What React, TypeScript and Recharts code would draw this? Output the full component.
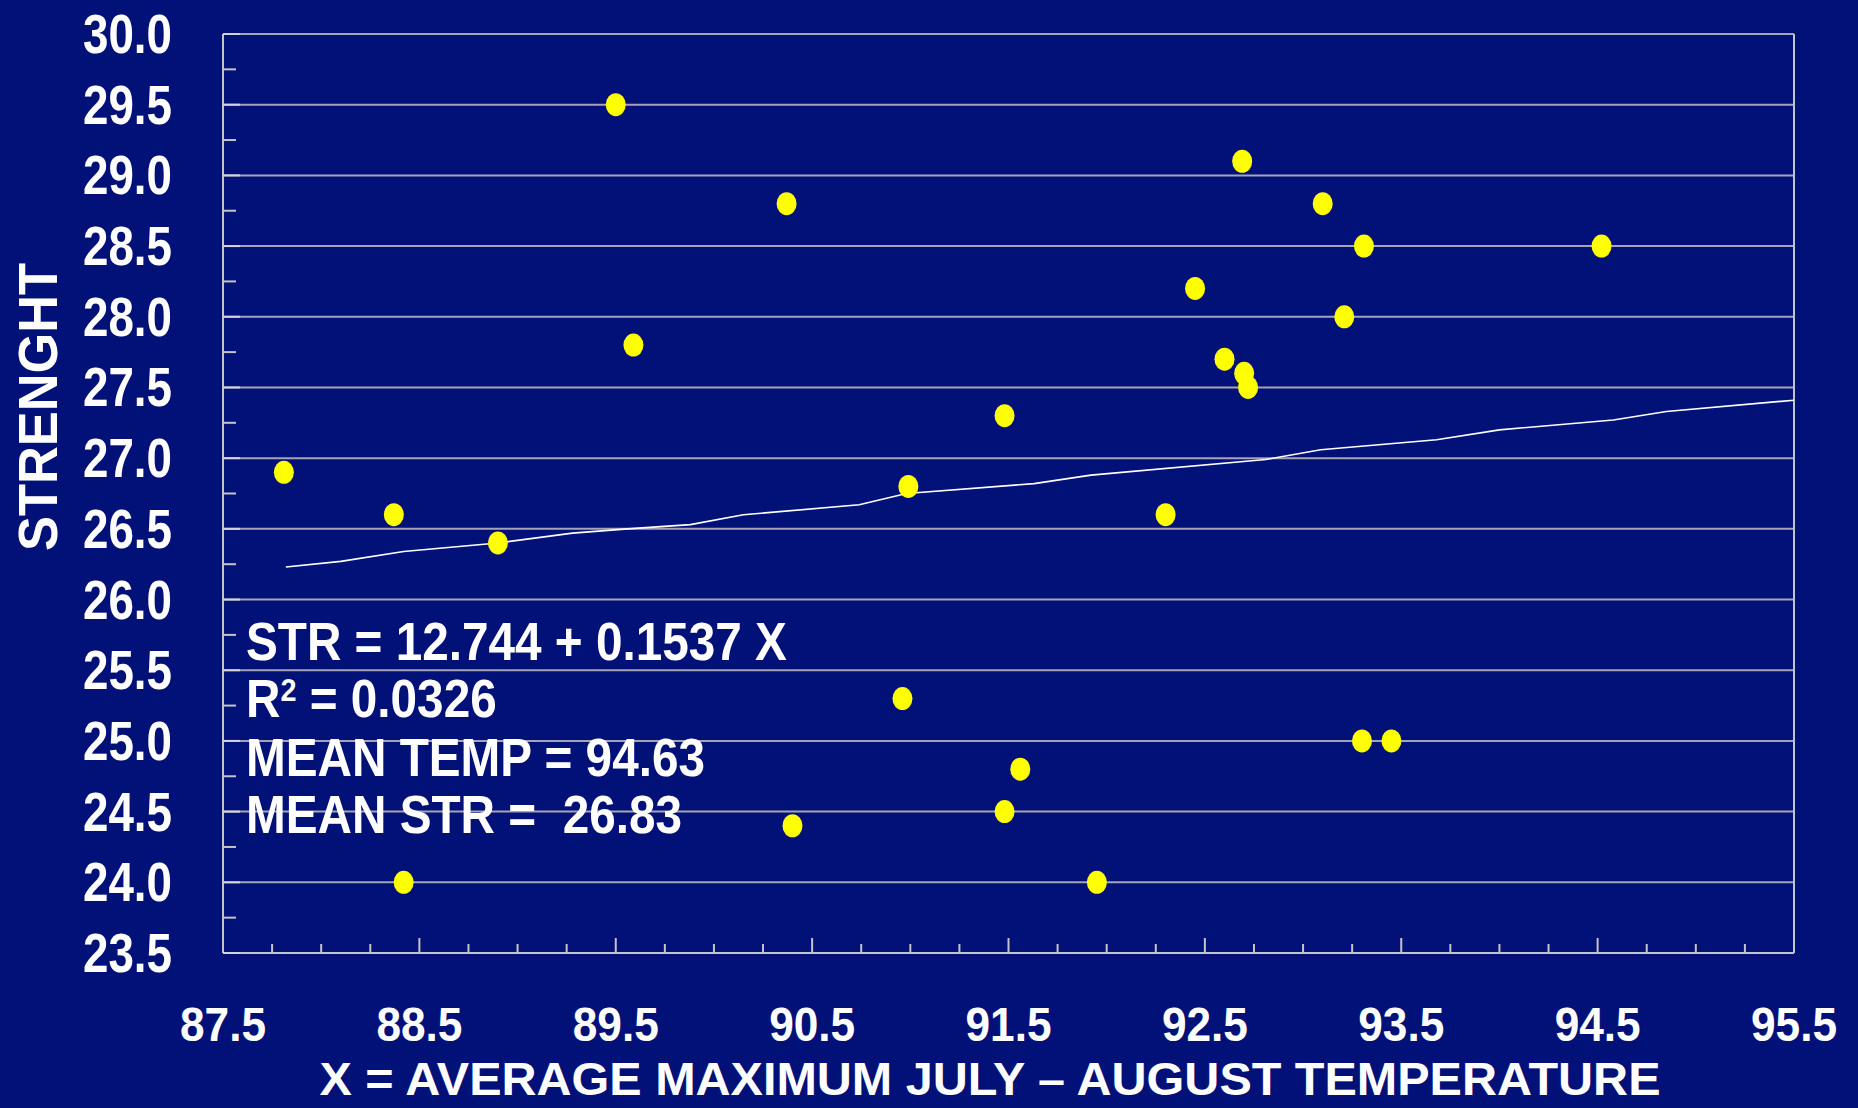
import { ComposedChart, Line, ReferenceLine, Scatter, XAxis, YAxis } from "recharts";

const BG = "#021178";
const GRID = "#a4a4b4";
const AXIS = "#c4c4c8";
const FONT = "'Liberation Sans', Arial, sans-serif";

// average max July-August temperature (x) and strength (y)
const tempX = [
  87.81, 88.37, 88.9, 88.42, 89.5, 89.59, 90.37, 90.4, 90.99, 90.96, 91.48, 91.48, 91.56,
  91.95, 92.3, 92.45, 92.6, 92.69, 92.7, 92.72, 93.1, 93.21, 93.31, 93.3, 93.45, 94.52,
];
const strengthY = [
  26.9, 26.6, 26.4, 24.0, 29.5, 27.8, 28.8, 24.4, 26.8, 25.3, 27.3, 24.5, 24.8, 24.0, 26.6,
  28.2, 27.7, 29.1, 27.6, 27.5, 28.8, 28.0, 28.5, 25.0, 25.0, 28.5,
];

// fitted line vertices as drawn
const trendX = [
  87.82, 88.1, 88.42, 88.9, 89.28, 89.56, 89.88, 90.15, 90.74, 90.98, 91.63, 91.92, 92.81,
  93.09, 93.68, 94.0, 94.58, 94.85, 95.5,
];
const trendY = [
  26.23, 26.27, 26.34, 26.4, 26.47, 26.5, 26.53, 26.6, 26.67, 26.75, 26.82, 26.88, 26.99,
  27.06, 27.13, 27.2, 27.27, 27.33, 27.41,
];

const xTicks = [
  87.5, 87.75, 88, 88.25, 88.5, 88.75, 89, 89.25, 89.5, 89.75, 90, 90.25, 90.5, 90.75, 91,
  91.25, 91.5, 91.75, 92, 92.25, 92.5, 92.75, 93, 93.25, 93.5, 93.75, 94, 94.25, 94.5, 94.75,
  95, 95.25, 95.5,
];
const yTicks = [
  23.5, 23.75, 24, 24.25, 24.5, 24.75, 25, 25.25, 25.5, 25.75, 26, 26.25, 26.5, 26.75, 27,
  27.25, 27.5, 27.75, 28, 28.25, 28.5, 28.75, 29, 29.25, 29.5, 29.75, 30,
];
const gridY = [24, 24.5, 25, 25.5, 26, 26.5, 27, 27.5, 28, 28.5, 29, 29.5, 30];

const points = tempX.map((x, i) => ({ x, y: strengthY[i] }));
const trend = trendX.map((x, i) => ({ x, y: trendY[i] }));

function XTick({ x, y, payload }: any) {
  const v = payload.value as number;
  const major = Number.isInteger(v - 87.5);
  return (
    <g>
      <line x1={x} x2={x} y1={y} y2={y - (major ? 15 : 9)} stroke={AXIS} strokeWidth={2} />
      {major && (
        <text
          x={x}
          y={y + 88}
          textAnchor="middle"
          fill="#fff"
          fontFamily={FONT}
          fontWeight="bold"
          fontSize={47.5}
          textLength={86}
          lengthAdjust="spacingAndGlyphs"
        >
          {v.toFixed(1)}
        </text>
      )}
    </g>
  );
}

function YTick({ x, y, payload }: any) {
  const v = payload.value as number;
  const major = Number.isInteger(v * 2);
  return (
    <g>
      <line
        x1={x}
        x2={x + (major ? 17 : 13)}
        y1={y}
        y2={y}
        stroke={major ? "#d4d4d8" : AXIS}
        strokeWidth={2}
      />
      {major && (
        <text
          x={x - 51}
          y={y + 19}
          textAnchor="end"
          fill="#fff"
          fontFamily={FONT}
          fontWeight="bold"
          fontSize={56}
          textLength={89}
          lengthAdjust="spacingAndGlyphs"
        >
          {v.toFixed(1)}
        </text>
      )}
    </g>
  );
}

function Dot({ cx, cy }: any) {
  return <ellipse cx={cx} cy={cy} rx={10} ry={11.5} fill="#ffff00" />;
}

export default function App() {
  const txt = { fill: "#fff", fontFamily: FONT, fontWeight: "bold" as const };
  return (
    <div
      style={{
        position: "absolute",
        left: 0,
        top: 0,
        width: 1858,
        height: 1108,
        background: BG,
        overflow: "hidden",
      }}
    >
      <ComposedChart
        width={1858}
        height={1108}
        margin={{ top: 34, right: 64, bottom: 0, left: 0 }}
      >
        {gridY.map((v) => (
          <ReferenceLine key={v} y={v} stroke={GRID} strokeWidth={2} />
        ))}
        <ReferenceLine x={95.5} stroke={AXIS} strokeWidth={2} />
        <XAxis
          type="number"
          dataKey="x"
          domain={[87.5, 95.5]}
          ticks={xTicks}
          interval={0}
          height={155}
          tickSize={0}
          tickMargin={0}
          tickLine={false}
          axisLine={{ stroke: AXIS, strokeWidth: 2 }}
          tick={XTick}
        />
        <YAxis
          type="number"
          dataKey="y"
          domain={[23.5, 30]}
          ticks={yTicks}
          interval={0}
          width={223}
          tickSize={0}
          tickMargin={0}
          tickLine={false}
          axisLine={{ stroke: AXIS, strokeWidth: 2 }}
          tick={YTick}
        />
        <Line
          data={trend}
          dataKey="y"
          type="linear"
          stroke="#ffffff"
          strokeWidth={1.6}
          dot={false}
          isAnimationActive={false}
        />
        <Scatter data={points} dataKey="y" shape={Dot} isAnimationActive={false} />
      </ComposedChart>
      <svg
        width={1858}
        height={1108}
        style={{ position: "absolute", left: 0, top: 0, pointerEvents: "none" }}
      >
        <text
          {...txt}
          x={57}
          y={407}
          transform="rotate(-90 57 407)"
          textAnchor="middle"
          fontSize={56}
          textLength={288}
          lengthAdjust="spacingAndGlyphs"
        >
          STRENGHT
        </text>
        <text
          {...txt}
          x={990}
          y={1095}
          textAnchor="middle"
          fontSize={47}
          textLength={1341}
          lengthAdjust="spacingAndGlyphs"
        >
          X = AVERAGE MAXIMUM JULY – AUGUST TEMPERATURE
        </text>
        <g transform="translate(246 0) scale(0.9 1)">
          <text {...txt} x={0} y={660} fontSize={53}>
            STR = 12.744 + 0.1537 X
          </text>
          <text {...txt} x={0} y={717} fontSize={53}>
            R
            <tspan fontSize={32} dy={-16}>
              2
            </tspan>
            <tspan dy={16}> = 0.0326</tspan>
          </text>
          <text {...txt} x={0} y={776} fontSize={53}>
            MEAN TEMP = 94.63
          </text>
          <text {...txt} x={0} y={833} fontSize={53} xmlSpace="preserve" style={{ whiteSpace: "pre" }}>
            {"MEAN STR =  26.83"}
          </text>
        </g>
      </svg>
    </div>
  );
}
